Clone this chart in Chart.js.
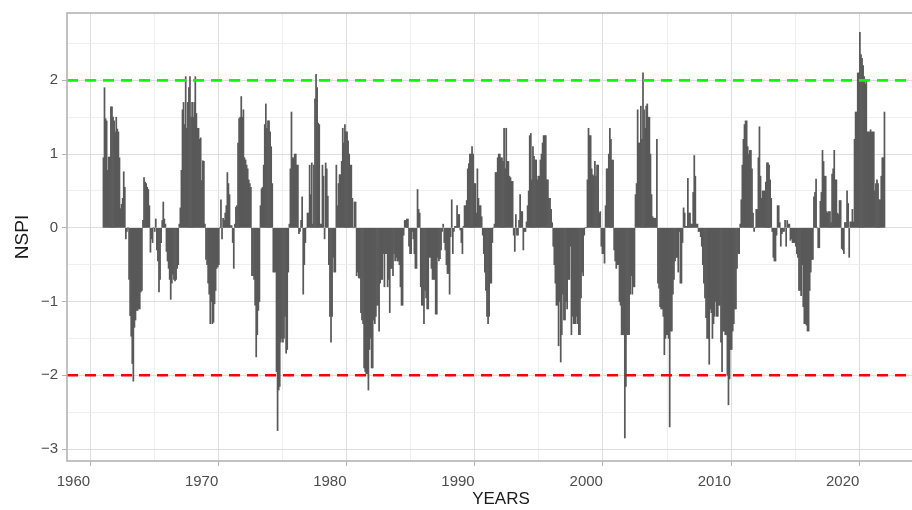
<!DOCTYPE html>
<html>
<head>
<meta charset="utf-8">
<title>NSPI</title>
<script src="https://cdn.jsdelivr.net/npm/chart.js@4.4.0/dist/chart.umd.min.js"></script>
<style>
  html, body { margin: 0; padding: 0; background: #ffffff; overflow: hidden; }
  /* the panel runs past the right edge of the picture, as in the original figure */
  #wrap { width: 935px; height: 510px; position: relative; }
</style>
</head>
<body>
<div id="wrap"><canvas id="nspi-chart"></canvas></div>
<script>
// Monthly NSPI values, January 1961 onwards (12 values per year)
const startYear = 1961;

const nspi1960s = [
    0.95, 1.9, 1.48, 1.45, 0.78, 0.96, 0.96, 1.64, 1.64, 1.5, 1.45, 1.3,          // 1961
    1.5, 1.34, 1.3, 0.95, 0.26, 0.32, 0.4, 0.76, 0.55, -0.15, -0.05, 0,           // 1962
    -0.7, -1.19, -1.47, -1.84, -2.08, -1.35, -1.25, -1.12, -1.12, -1.1, -1.1, -0.87, // 1963
    -0.85, 0.1, 0.68, 0.62, 0.6, 0.55, 0.52, 0.3, -0.33, -0.15, -0.2, 0,          // 1964
    -0.05, 0.12, -0.3, -0.45, -0.87, -0.7, -0.2, 0.1, 0.35, 0.12, 0.05, -0.32,    // 1965
    -0.45, -0.55, -0.7, -0.97, -0.75, -0.63, -0.7, -0.72, -0.7, -0.55, -0.5, 0.05, // 1966
    0.27, 0.78, 1.6, 1.7, 1.4, 2.05, 1.35, 1.7, 1.9, 2.05, 1.5, 1.7,              // 1967
    1.5, 1.7, 2.05, 1.55, 1.35, 1.35, 1.2, 1.22, 0.64, 0.91, 0.9, 0.05,           // 1968
    -0.43, -0.5, -0.75, -0.9, -1.3, -1.0, -1.3, -1.28, -1.03, -0.85, -0.55, -0.53 // 1969
];

const nspi1970s = [
    -0.5, 0.0, 0.38, -0.15, 0.13, 0.1, 0.2, 0.3, 0.75, 0.6, 0.45, 0.03,
    0.03, -0.2, -0.55, 0.05, 0.28, 0.3, 1.15, 1.48, 1.5, 1.78, 1.5, 1.6,
    0.95, 0.92, 0.85, 0.8, 0.65, 0.6, 0.55, -0.65, -0.65, -0.7, -1.05, -1.75,
    -1.45, -1.12, -1.0, 0.3, 0.53, 0.55, 0.85, 1.4, 1.68, 1.35, 1.45, 1.45,
    1.3, 1.1, 0.6, -0.6, -0.6, -0.6, -1.95, -2.75, -2.2, -2.15, -1.55, -1.5,
    -1.55, -1.5, -1.2, -1.7, -1.65, -0.6, 0.05, 0.8, 1.57, 0.95, 0.95, 1.0,
    1.0, 0.85, 0.85, -0.08, -0.05, 0.1, 0.42, -0.9, -0.5, -0.2, 0.0, 0.2,
    0.2, 0.85, 0.45, 0.88, 0.05, 0.85, 1.75, 2.08, 1.9, 1.42, 1.4, 0.05,
    0.05, 0.85, 0.7, -0.15, 0.88, 0.8, 0.43, -0.5, -1.2, -1.55, -1.2, -0.4,
    -0.6, -0.6, 0.85, 0.3, 0.6, 0.72, 0.72, 0.9, 1.35, 1.15, 1.4, 1.3
];

const nspi1980s = [
    1.3, 1.18, 1.0, 0.85, 0.85, 0.4, 0.0, 0.35, 0.35, -0.65, -0.6, -0.68,
    -0.68, -1.15, -1.25, -1.3, -1.9, -1.95, -1.98, -1.98, -2.2, -1.65, -1.5, -1.9,
    -1.9, -1.25, -1.3, -1.2, -1.05, -1.05, -1.4, -0.75, -0.7, -0.7, -0.35, -0.8,
    -0.35, -0.35, -0.8, -0.7, -1.15, -0.55, -0.55, -0.65, -0.35, -0.45, -0.4, -0.45,
    -0.45, -0.5, -0.8, -1.05, -1.05, -0.1, 0.1, 0.1, 0.12, 0.12, -0.25, -0.35,
    -0.35, -0.05, -0.15, -0.35, -0.55, -0.55, 0.52, 0.25, 0.2, -0.8, -1.05, -1.05,
    -1.3, -0.85, -0.95, -1.1, -1.1, -0.4, -0.4, -0.55, -0.7, -0.7, -0.7, -1.17,
    -1.17, -0.4, -0.45, -0.42, -0.3, -0.05, 0.05, -0.2, -0.3, -0.5, -0.62, -0.62,
    -0.9, -0.12, 0.38, -0.35, -0.05, 0.02, 0.02, 0.3, 0.18, 0.18, -0.03, -0.2,
    -0.35, 0.02, 0.3, 0.3, 0.37, 0.8, 0.87, 1.0, 1.0, 1.1, 1.0, 0.6
];

const nspi1990s = [
    0.6, 0.2, 0.8, 0.4, 0.3, 0.3, 0.15, -0.1, -0.35, -0.6, -0.85, -1.2,
    -1.3, -1.2, -0.75, -0.75, -0.2, 0.0, 0.05, 0.75, 0.75, 0.95, 1.0, 1.0,
    0.95, 0.95, 0.9, 1.35, 0.8, 1.35, 0.9, 0.9, 0.7, 0.68, 0.63, 0.63,
    -0.1, -0.32, 0.18, -0.1, -0.1, 0.1, 0.45, 0.22, 0.22, -0.3, -0.05, -0.05,
    0.08, 0.3, 0.5, 1.25, 1.28, 0.65, 1.1, 0.97, 0.92, 0.92, 0.65, 0.7,
    0.7, 0.92, 1.0, 1.15, 1.25, 1.25, 1.25, 0.65, 0.65, 0.4, 0.4, 0.25,
    0.07, -0.25, -0.5, -0.75, -1.05, -1.05, -1.6, -1.0, -1.82, -1.45, -0.9, -1.25,
    -1.25, -1.0, -1.1, -0.7, -0.7, -0.25, -1.45, -1.2, -1.3, -1.3, -1.3, -1.2,
    -1.3, -1.45, -1.45, -0.95, -0.6, -0.65, -0.1, 0.0, 0.0, 0.65, 1.35, 1.25,
    1.25, 0.8, 0.72, 0.7, 0.9, 0.7, 0.85, 0.85, 0.2, 0.22, -0.25, -0.35
];

const nspi2000s = [
    -0.35, -0.48, 0.3, 0.8, 0.8, 1.0, 1.35, 1.2, 0.92, 0.92, -0.3, -0.45,
    -0.55, -0.5, -0.5, -1.0, -1.05, -1.45, -1.45, -1.45, -2.85, -2.15, -1.45, -1.45,
    -1.45, -0.9, -0.65, -0.9, -0.8, -0.8, 0.45, 0.6, 1.6, 1.15, 1.15, 1.65,
    1.2, 2.1, 1.6, 1.35, 1.65, 1.68, 1.5, 1.5, 1.0, 0.45, 0.15, 0.13,
    0.13, 0.13, 1.2, -0.75, -0.82, -1.07, -1.1, -1.1, -1.2, -1.72, -1.5, -1.45,
    -1.45, -1.5, -2.7, -1.4, -1.4, -0.9, -0.7, -0.45, -0.4, -0.4, -0.6, -0.05,
    -0.75, -0.75, -0.2, 0.27, 0.2, 0.02, 0.02, 0.67, 0.2, 0.2, 0.05, 0.05,
    0.48, 0.98, 0.7, 0.05, 0.05, -0.05, -0.05, -0.12, -0.25, -0.5, -0.75, -0.95,
    -1.22, -1.5, -1.5, -1.85, -1.1, -1.15, -1.5, -1.3, -1.2, -1.0, -1.2, -1.2,
    -1.05, -1.05, -1.55, -1.95, -1.4, -1.4, -1.45, -1.45, -2.0, -2.4, -2.05, -1.65
];

const nspi2010s = [
    -1.65, -1.4, -1.3, -1.1, -1.1, -0.55, -0.35, -0.35, 0.05, 0.38, 0.85, 1.2,
    1.4, 1.45, 1.45, 1.1, 1.0, 1.05, 1.05, 0.8, 0.2, -0.05, 0.0, 0.25,
    0.25, 0.95, 1.37, 0.7, 0.4, 0.5, 0.5, 0.5, 0.62, 0.88, 0.88, 0.85,
    0.65, 0.4, -0.05, -0.4, -0.45, -0.45, -0.1, 0.3, 0.3, 0.07, -0.25, -0.08,
    -0.05, -0.05, 0.1, -0.25, 0.1, 0.05, 0.05, -0.17, -0.15, -0.2, -0.2, -0.2,
    -0.25, -0.35, -0.4, -0.85, -0.85, -0.92, -0.5, -1.07, -1.3, -1.3, -1.32, -1.4,
    -1.4, -0.85, -0.6, -0.43, -0.43, 0.42, 0.48, 0.66, 0.0, -0.27, -0.27, 0.36,
    0.48, 1.05, 0.9, 0.7, 0.7, 0.22, 0.2, 0.22, 0.22, 0.07, 0.73, 0.8,
    1.05, 0.65, 0.65, 0.2, 0.18, 0.37, 0.37, -0.28, -0.3, -0.35, 0.07, 0.07,
    0.5, 0.33, -0.4, 0.08, 0.08, 0.25, 0.08, 1.2, 1.57, 1.57, 2.1, 2.1
];

const nspi2020s = [
    2.65, 2.35, 2.3, 2.2, 2.05, 1.95, 2.0, 1.3, 1.3, 1.3, 1.33, 1.3,
    1.3, 1.3, 0.5, 0.6, 0.65, 0.6, 0.38, 0.38, 0.7, 0.95, 0.95, 1.57
];

const xTickYears = [1960, 1970, 1980, 1990, 2000, 2010, 2020];
const yTickValues = [-3, -2, -1, 0, 1, 2];
const wetThreshold = 2;
const dryThreshold = -2;
const xLimits = [1958.2, 2025.9];
const yLimits = [-3.162, 2.913];

// Build {x, y} points, bar centred in the middle of each month
const allValues = [].concat(nspi1960s, nspi1970s, nspi1980s, nspi1990s, nspi2000s, nspi2010s, nspi2020s);
const barPoints = allValues.map((v, i) => ({ x: startYear + (i + 0.5) / 12, y: v }));

const thresholdLine = (value) => [{ x: xLimits[0], y: value }, { x: xLimits[1], y: value }];

// Scriptable grid options get a context without a tick for the border
const tickValue = (ctx) => (ctx && ctx.tick) ? ctx.tick.value : NaN;
const isMajorYear = (v) => xTickYears.includes(v);
const isMajorY = (v) => yTickValues.includes(v);

// Panel border, drawn last
const panelBorder = {
    id: 'panelBorder',
    afterDraw(chart) {
        const { ctx, chartArea } = chart;
        ctx.save();
        ctx.strokeStyle = '#b3b3b3';
        ctx.lineWidth = 1.6;
        ctx.strokeRect(chartArea.left, chartArea.top, chartArea.right - chartArea.left, chartArea.bottom - chartArea.top);
        ctx.restore();
    }
};

const tickFont = { family: "'Liberation Sans', Arial, sans-serif", size: 15 };

new Chart(document.getElementById('nspi-chart'), {
    type: 'bar',
    data: {
        datasets: [
            {
                type: 'line',
                data: thresholdLine(wetThreshold),
                borderColor: '#00ff00',
                borderWidth: 2.6,
                borderDash: [11, 7],
                pointRadius: 0,
                order: 1
            },
            {
                type: 'line',
                data: thresholdLine(dryThreshold),
                borderColor: '#ff0000',
                borderWidth: 2.6,
                borderDash: [11, 7],
                pointRadius: 0,
                order: 1
            },
            {
                label: 'NSPI',
                data: barPoints,
                backgroundColor: '#595959',
                borderWidth: 0,
                barPercentage: 1,
                categoryPercentage: 1,
                order: 2
            }
        ]
    },
    options: {
        responsive: true,
        maintainAspectRatio: false,
        animation: false,
        layout: { padding: { top: 12, right: 0, bottom: 0, left: 0 } },
        plugins: {
            legend: { display: false },
            tooltip: { enabled: false }
        },
        scales: {
            x: {
                type: 'linear',
                offset: false,
                min: xLimits[0],
                max: xLimits[1],
                afterBuildTicks: (scale) => {
                    const ticks = [];
                    for (let y = xTickYears[0]; y <= xTickYears[xTickYears.length - 1]; y += 5) {
                        ticks.push({ value: y });
                    }
                    scale.ticks = ticks;
                },
                afterFit: (scale) => { scale.height = 49; },
                grid: {
                    offset: false,
                    color: (ctx) => isMajorYear(tickValue(ctx)) ? '#dedede' : '#efefef',
                    lineWidth: 1,
                    tickColor: (ctx) => isMajorYear(tickValue(ctx)) ? '#b3b3b3' : 'rgba(0,0,0,0)',
                    tickLength: 5
                },
                border: { display: false },
                ticks: {
                    autoSkip: false,
                    maxRotation: 0,
                    align: 'end',
                    padding: 7,
                    color: '#4d4d4d',
                    font: tickFont,
                    callback: (v) => isMajorYear(v) ? String(v) : ''
                },
                title: {
                    display: true,
                    text: 'YEARS',
                    color: '#1a1a1a',
                    padding: 0,
                    font: { family: "'Liberation Sans', Arial, sans-serif", size: 17 }
                }
            },
            y: {
                min: yLimits[0],
                max: yLimits[1],
                afterBuildTicks: (scale) => {
                    const ticks = [];
                    for (let v = -3; v <= 2.5; v += 0.5) {
                        ticks.push({ value: v });
                    }
                    scale.ticks = ticks;
                },
                afterFit: (scale) => { scale.width = 67; },
                grid: {
                    color: (ctx) => isMajorY(tickValue(ctx)) ? '#dedede' : '#efefef',
                    lineWidth: 1,
                    tickColor: (ctx) => isMajorY(tickValue(ctx)) ? '#b3b3b3' : 'rgba(0,0,0,0)',
                    tickLength: 5
                },
                border: { display: false },
                ticks: {
                    autoSkip: false,
                    padding: 4,
                    color: '#4d4d4d',
                    font: tickFont,
                    callback: (v) => isMajorY(v) ? (v < 0 ? '\u2212' + Math.abs(v) : String(v)) : ''
                },
                title: {
                    display: true,
                    text: 'NSPI',
                    color: '#1a1a1a',
                    padding: { top: 11, bottom: 0 },
                    font: { family: "'Liberation Sans', Arial, sans-serif", size: 19 }
                }
            }
        }
    },
    plugins: [panelBorder]
});
</script>
</body>
</html>
